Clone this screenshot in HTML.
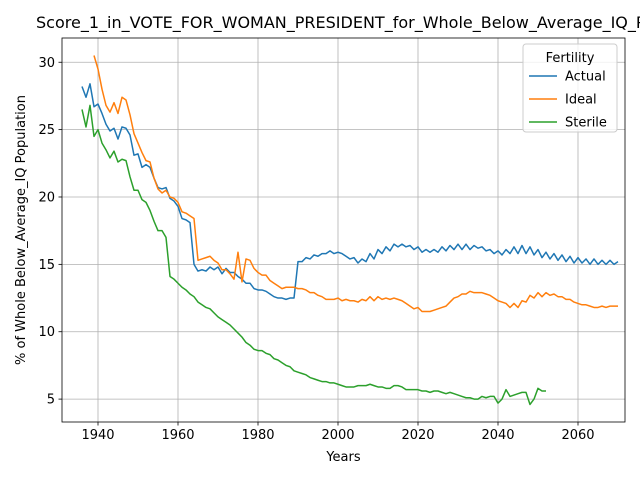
<!DOCTYPE html>
<html><head><meta charset="utf-8"><style>body{margin:0;background:#fff}svg{display:block;font-family:"DejaVu Sans","Liberation Sans",sans-serif}</style></head>
<body>
<svg id="chart" width="640" height="480" xmlns="http://www.w3.org/2000/svg">
<rect width="640" height="480" fill="#fff"/>
<g id="grid"></g><g id="series"></g><g id="axes"></g>
</svg>
<script>
const actualStart = 1936;
const actualValues = [28.2,27.4,28.4,26.7,26.9,26.2,25.4,24.9,25.1,24.3,25.2,25.1,24.6,23.1,23.2,22.2,22.4,22.2,21.4,20.7,20.6,20.7,19.9,19.7,19.3,18.4,18.3,18.1,15.0,14.5,14.6,14.5,14.8,14.6,14.8,14.3,14.7,14.4,14.4,14.1,13.9,13.6,13.6,13.2,13.1,13.1,13.0,12.8,12.6,12.5,12.5,12.4,12.5,12.5,15.2,15.2,15.5,15.4,15.7,15.6,15.8,15.8,16.0,15.8,15.9,15.8,15.6,15.4,15.5,15.1,15.4,15.2,15.8,15.4,16.1,15.8,16.3,16.0,16.5,16.3,16.5,16.3,16.4,16.1,16.3,15.9,16.1,15.9,16.1,15.9,16.3,16.0,16.4,16.1,16.5,16.1,16.5,16.1,16.4,16.2,16.3,16.0,16.1,15.8,16.0,15.7,16.1,15.8,16.3,15.8,16.4,15.8,16.3,15.7,16.1,15.5,15.9,15.4,15.8,15.3,15.7,15.2,15.6,15.1,15.5,15.1,15.4,15.0,15.4,15.0,15.3,15.0,15.3,15.0,15.2];
const idealStart = 1939;
const idealValues = [30.5,29.5,28.0,26.8,26.3,27.0,26.2,27.4,27.2,26.1,24.7,24.0,23.3,22.7,22.6,21.4,20.6,20.3,20.5,20.0,19.9,19.6,18.9,18.8,18.6,18.4,15.3,15.4,15.5,15.6,15.3,15.1,14.6,14.6,14.3,13.9,15.9,13.7,15.4,15.3,14.7,14.4,14.2,14.2,13.8,13.6,13.4,13.2,13.3,13.3,13.3,13.2,13.2,13.1,12.9,12.9,12.7,12.6,12.4,12.4,12.4,12.5,12.3,12.4,12.3,12.3,12.2,12.4,12.3,12.6,12.3,12.6,12.4,12.5,12.4,12.5,12.4,12.3,12.1,11.9,11.7,11.8,11.5,11.5,11.5,11.6,11.7,11.8,11.9,12.2,12.5,12.6,12.8,12.8,13.0,12.9,12.9,12.9,12.8,12.7,12.5,12.3,12.2,12.1,11.8,12.1,11.8,12.3,12.2,12.7,12.5,12.9,12.6,12.9,12.7,12.8,12.6,12.6,12.4,12.4,12.2,12.1,12.0,12.0,11.9,11.8,11.8,11.9,11.8,11.9,11.9,11.9];
const sterileStart = 1936;
const sterileValues = [26.5,25.2,26.8,24.5,25.0,24.0,23.5,22.9,23.4,22.6,22.8,22.7,21.5,20.5,20.5,19.8,19.6,19.0,18.2,17.5,17.5,17.0,14.1,13.9,13.6,13.3,13.1,12.8,12.6,12.2,12.0,11.8,11.7,11.4,11.1,10.9,10.7,10.5,10.2,9.9,9.6,9.2,9.0,8.7,8.6,8.6,8.4,8.3,8.0,7.9,7.7,7.5,7.4,7.1,7.0,6.9,6.8,6.6,6.5,6.4,6.3,6.3,6.2,6.2,6.1,6.0,5.9,5.9,5.9,6.0,6.0,6.0,6.1,6.0,5.9,5.9,5.8,5.8,6.0,6.0,5.9,5.7,5.7,5.7,5.7,5.6,5.6,5.5,5.6,5.6,5.5,5.4,5.5,5.4,5.3,5.2,5.1,5.1,5.0,5.0,5.2,5.1,5.2,5.2,4.7,5.0,5.7,5.2,5.3,5.4,5.5,5.5,4.6,5.0,5.8,5.6,5.6];
const xTicks = [1940,1960,1980,2000,2020,2040,2060];
const yTicks = [5,10,15,20,25,30];

const L=62,R=625,T=38,B=422;
const X0=1931,X1=2071.75, Y0=3.3, Y1=31.8;
const x=v=>L+(v-X0)/(X1-X0)*(R-L);
const y=v=>B-(v-Y0)/(Y1-Y0)*(B-T);
const NS="http://www.w3.org/2000/svg";
function mk(tag,attrs,parent,text){const e=document.createElementNS(NS,tag);for(const k in attrs)e.setAttribute(k,attrs[k]);if(text!==undefined)e.textContent=text;parent.appendChild(e);return e;}
const grid=document.getElementById('grid'),series=document.getElementById('series'),axes=document.getElementById('axes');
xTicks.forEach(t=>{
  const g=mk('line',{x1:x(t),x2:x(t),y1:T,y2:B,stroke:'#b0b0b0','stroke-width':0.8},grid);
  
  
  mk('line',{x1:x(t),x2:x(t),y1:B,y2:B+3.5,stroke:'#000','stroke-width':0.8},axes);
  const lb=mk('text',{x:x(t),y:B+17,'text-anchor':'middle','font-size':13,fill:'#000'},axes,String(t));
  
  
});
yTicks.forEach(t=>{
  const g=mk('line',{x1:L,x2:R,y1:y(t),y2:y(t),stroke:'#b0b0b0','stroke-width':0.8},grid);
  
  
  mk('line',{x1:L-3.5,x2:L,y1:y(t),y2:y(t),stroke:'#000','stroke-width':0.8},axes);
  const lb=mk('text',{x:L-7,y:y(t)+4.5,'text-anchor':'end','font-size':13,fill:'#000'},axes,String(t));
  
  
});
function line(start,vals,color,name){
  const pts=vals.map((v,i)=>x(start+i).toFixed(2)+','+y(v).toFixed(2)).join(' ');
  const p=mk('polyline',{points:pts,fill:'none',stroke:color,'stroke-width':1.5,'stroke-linejoin':'round'},series);
  
  
}
line(actualStart,actualValues,'#1f77b4','actual-line');
line(idealStart,idealValues,'#ff7f0e','ideal-line');
line(sterileStart,sterileValues,'#2ca02c','sterile-line');
const fr=mk('rect',{x:L,y:T,width:R-L,height:B-T,fill:'none',stroke:'#000','stroke-width':0.8},axes);


const tt=mk('text',{x:36,y:T-10,'text-anchor':'start','font-size':16,fill:'#000'},axes,'Score_1_in_VOTE_FOR_WOMAN_PRESIDENT_for_Whole_Below_Average_IQ_Population');


const xt=mk('text',{x:(L+R)/2,y:461,'text-anchor':'middle','font-size':13,fill:'#000'},axes,'Years');


const yt=mk('text',{x:0,y:0,'text-anchor':'middle','font-size':13,fill:'#000',transform:`translate(25,${(T+B)/2}) rotate(-90)`},axes,'% of Whole Below_Average_IQ Population');


const lg=mk('g',{},axes);


mk('rect',{x:523,y:44,width:94,height:88,rx:3,fill:'#fff','fill-opacity':0.8,stroke:'#ccc','stroke-width':1},lg);
mk('text',{x:570,y:62,'text-anchor':'middle','font-size':13,fill:'#000'},lg,'Fertility');
[['Actual','#1f77b4'],['Ideal','#ff7f0e'],['Sterile','#2ca02c']].forEach((e,i)=>{
  const yy=76+i*23;
  const g=mk('g',{},lg);
  
  
  mk('line',{x1:529,x2:557,y1:yy,y2:yy,stroke:e[1],'stroke-width':1.5},g);
  mk('text',{x:565,y:yy+4.5,'font-size':13,fill:'#000'},g,e[0]);
});
</script>
</body></html>
